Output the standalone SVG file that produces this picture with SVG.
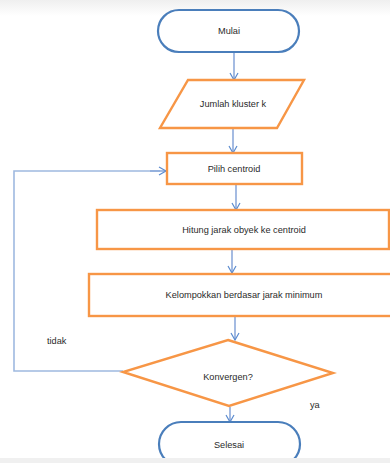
<svg xmlns="http://www.w3.org/2000/svg" width="390" height="463" viewBox="0 0 390 463">
<defs>
<linearGradient id="topg" x1="0" y1="0" x2="0" y2="1">
<stop offset="0" stop-color="#efefef"/>
<stop offset="1" stop-color="#ffffff"/>
</linearGradient>
<marker id="arr" markerWidth="10" markerHeight="10" refX="8" refY="5" orient="auto" markerUnits="userSpaceOnUse">
<path d="M1,1 L8,5 L1,9" fill="none" stroke="#5b8bcf" stroke-width="1.2"/>
</marker>
<style>
.term{fill:#fff;stroke:#4a7ebb;stroke-width:2.2}
.proc{fill:#fff;stroke:#f79646;stroke-width:2.4}
.conn{fill:none;stroke:#8eaadb;stroke-width:1.6;marker-end:url(#arr)}
.loop{fill:none;stroke:#9fb9e0;stroke-width:1.6}
text{font-family:"Liberation Sans",Arial,sans-serif;font-size:9.2px;fill:#2a2a2a;text-anchor:middle}
.lbl{text-anchor:start}
</style>
</defs>
<rect x="0" y="0" width="390" height="463" fill="#fff"/>
<rect x="0" y="0" width="390" height="16" fill="url(#topg)"/>
<g id="connectors">
<line class="conn" x1="234" y1="53" x2="234" y2="80"/>
<line class="conn" x1="233" y1="129" x2="233" y2="153"/>
<line class="conn" x1="236" y1="185" x2="236" y2="210"/>
<line class="conn" x1="232" y1="250" x2="232" y2="273"/>
<line class="conn" x1="235" y1="317" x2="235" y2="340"/>
<line class="conn" x1="230" y1="407" x2="230" y2="422"/>
<polyline class="loop" points="123,371 14,371 14,171 160,171"/>
<line class="conn" x1="150" y1="171" x2="166" y2="171"/>
</g>
<g id="mulai">
<rect class="term" x="158" y="10" width="141" height="42" rx="21"/>
<text x="229" y="34">Mulai</text>
</g>
<g id="jumlah">
<polygon class="proc" points="188,80 304,80 277,128 160,128"/>
<text x="233" y="107">Jumlah kluster k</text>
</g>
<g id="pilih">
<rect class="proc" x="167" y="153" width="135" height="31"/>
<text x="234" y="172">Pilih centroid</text>
</g>
<g id="hitung">
<rect class="proc" x="97" y="210" width="292" height="39"/>
<text x="244" y="233">Hitung jarak obyek ke centroid</text>
</g>
<g id="kelompok">
<rect class="proc" x="89" y="274" width="310" height="42"/>
<text x="244" y="298">Kelompokkan berdasar jarak minimum</text>
</g>
<g id="konvergen">
<polygon class="proc" points="228,340 333,373 229,406 123,372"/>
<text x="228" y="380">Konvergen?</text>
</g>
<g id="selesai">
<rect class="term" x="159" y="422" width="141" height="44" rx="22"/>
<text x="229" y="448">Selesai</text>
</g>
<text class="lbl" x="47" y="344">tidak</text>
<text class="lbl" x="310" y="408">ya</text>
<rect x="0" y="458" width="390" height="5" fill="#f0f0f0"/>
</svg>
